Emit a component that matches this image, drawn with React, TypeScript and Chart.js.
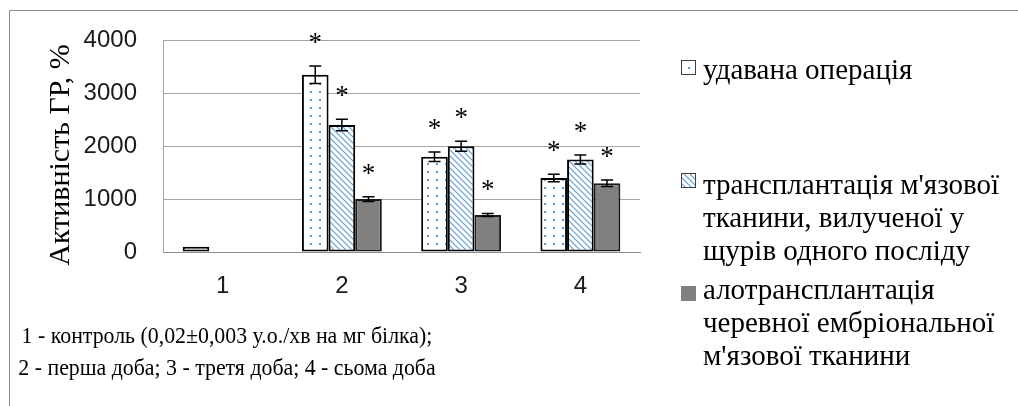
import React, { useEffect, useRef } from 'react';
import { Chart, registerables } from 'chart.js';

Chart.register(...registerables);

// ---- data ----
const categories = ['1', '2', '3', '4'];
const shamValues = [100, 3350, 1800, 1400];
const shamErrors = [0, 165, 90, 70];
const muscleValues = [null, 2400, 2000, 1750];
const muscleErrors = [0, 110, 95, 85];
const alloValues = [null, 1000, 700, 1300];
const alloErrors = [0, 45, 30, 60];
const shamStars = [false, true, true, true];
const muscleStars = [false, true, true, true];
const alloStars = [false, true, true, true];
const seriesNames = [
  ['удавана операція'],
  ["трансплантація м'язової", 'тканини, вилученої у', 'щурів одного посліду'],
  ['алотрансплантація', 'черевної ембріональної', "м'язової тканини"],
];
const yTitle = 'Активність ГР, %';
const noteLines = [
  '1 - контроль (0,02±0,003 у.о./хв на мг білка);',
  '2 - перша доба; 3 - третя доба; 4 - сьома доба',
];
const yMin = 0;
const yMax = 4000;
const yStep = 1000;

const SERIF = '"Liberation Serif", "Times New Roman", serif';
const SANS = '"Liberation Sans", Arial, sans-serif';
const BLUE = '#5b9bd5';

function makeDotPattern(ctx: CanvasRenderingContext2D) {
  const c = document.createElement('canvas');
  c.width = 9;
  c.height = 8;
  const g = c.getContext('2d')!;
  g.fillStyle = '#ffffff';
  g.fillRect(0, 0, 9, 8);
  g.fillStyle = BLUE;
  g.fillRect(4, 3, 2, 2);
  return ctx.createPattern(c, 'repeat')!;
}

function makeDiagPattern(ctx: CanvasRenderingContext2D) {
  const s = 6;
  const c = document.createElement('canvas');
  c.width = s;
  c.height = s;
  const g = c.getContext('2d')!;
  g.fillStyle = '#ffffff';
  g.fillRect(0, 0, s, s);
  g.strokeStyle = BLUE;
  g.lineWidth = 1.1;
  g.beginPath();
  g.moveTo(-1, -1);
  g.lineTo(s + 1, s + 1);
  g.moveTo(-1, s - 1);
  g.lineTo(1, s + 1);
  g.moveTo(s - 1, -1);
  g.lineTo(s + 1, 1);
  g.stroke();
  return ctx.createPattern(c, 'repeat')!;
}

export default function App() {
  const canvasRef = useRef<HTMLCanvasElement | null>(null);

  useEffect(() => {
    const canvas = canvasRef.current!;
    const ctx = canvas.getContext('2d')!;
    const dotPat = makeDotPattern(ctx);
    const diagPat = makeDiagPattern(ctx);

    const errorSets = [shamErrors, muscleErrors, alloErrors];
    const starSets = [shamStars, muscleStars, alloStars];

    const overlay = {
      id: 'overlay',
      afterDatasetsDraw(chart: any) {
        const c = chart.ctx as CanvasRenderingContext2D;
        const y = chart.scales.y;
        c.save();
        chart.data.datasets.forEach((ds: any, d: number) => {
          const meta = chart.getDatasetMeta(d);
          ds.data.forEach((v: number | null, i: number) => {
            if (v === null || v === undefined) return;
            const bar = meta.data[i];
            const x = bar.x;
            const err = errorSets[d][i];
            let topPx = y.getPixelForValue(v);
            if (err > 0) {
              topPx = y.getPixelForValue(v + err);
              const botPx = y.getPixelForValue(v - err);
              c.strokeStyle = '#000';
              c.lineWidth = 1.5;
              c.beginPath();
              c.moveTo(x, topPx);
              c.lineTo(x, botPx);
              c.moveTo(x - 6, topPx);
              c.lineTo(x + 6, topPx);
              c.moveTo(x - 6, botPx);
              c.lineTo(x + 6, botPx);
              c.stroke();
            }
            if (starSets[d][i]) {
              c.fillStyle = '#000';
              c.font = `27px ${SERIF}`;
              c.textAlign = 'center';
              c.textBaseline = 'middle';
              c.fillText('*', x, topPx - 22);
            }
          });
        });
        c.restore();
      },
      afterDraw(chart: any) {
        const c = chart.ctx as CanvasRenderingContext2D;
        c.save();
        // outer frame (top and left edges visible)
        c.strokeStyle = '#8c8c8c';
        c.lineWidth = 1;
        c.beginPath();
        c.moveTo(9.5, 406);
        c.lineTo(9.5, 10.5);
        c.lineTo(1018, 10.5);
        c.stroke();

        // y axis title
        c.fillStyle = '#000';
        c.font = `30px ${SERIF}`;
        c.textAlign = 'center';
        c.textBaseline = 'middle';
        c.translate(61, 155);
        c.rotate(-Math.PI / 2);
        c.fillText(yTitle, 0, 0);
        c.setTransform(1, 0, 0, 1, 0, 0);

        // legend
        const markerFills = [dotPat, diagPat, '#808080'];
        const markerTops = [60, 173, 286];
        const baselines = [[79], [194, 227, 260], [299, 332, 365]];
        seriesNames.forEach((lines, k) => {
          const mx = 681;
          const my = markerTops[k];
          c.fillStyle = markerFills[k] as any;
          c.fillRect(mx, my, 15, 15);
          if (k < 2) {
            c.strokeStyle = '#404040';
            c.lineWidth = 1;
            c.strokeRect(mx + 0.5, my + 0.5, 14, 14);
          }
          c.fillStyle = '#000';
          c.font = `29px ${SERIF}`;
          c.textAlign = 'left';
          c.textBaseline = 'alphabetic';
          lines.forEach((t, j) => c.fillText(t, 703, baselines[k][j]));
        });

        // note under the axis (slightly condensed, as in the original)
        c.font = `24px ${SERIF}`;
        c.textAlign = 'center';
        const sx = 0.91;
        c.save();
        c.scale(sx, 1);
        noteLines.forEach((t, j) => c.fillText(t, 227 / sx, 343 + j * 32));
        c.restore();
        c.restore();
      },
    };

    const chart = new Chart(ctx, {
      type: 'bar',
      data: {
        labels: categories,
        datasets: [
          {
            label: seriesNames[0].join(' '),
            data: shamValues,
            backgroundColor: dotPat,
            borderColor: '#000',
            borderWidth: 2,
            borderSkipped: false,
          },
          {
            label: seriesNames[1].join(' '),
            data: muscleValues,
            backgroundColor: diagPat,
            borderColor: '#000',
            borderWidth: 2,
            borderSkipped: false,
          },
          {
            label: seriesNames[2].join(' '),
            data: alloValues,
            backgroundColor: '#808080',
            borderColor: '#1a1a1a',
            borderWidth: 2,
            borderSkipped: false,
          },
        ] as any,
      },
      options: {
        animation: false,
        responsive: true,
        maintainAspectRatio: false,
        layout: { padding: { left: 0, top: 40, right: 378, bottom: 0 } },
        datasets: { bar: { categoryPercentage: 0.67, barPercentage: 1 } },
        plugins: { legend: { display: false }, tooltip: { enabled: false } },
        scales: {
          x: {
            grid: { display: false, drawTicks: false },
            border: { display: true, color: '#8c8c8c', width: 1 },
            ticks: { color: '#1a1a1a', font: { family: SANS, size: 24 }, padding: 20 },
            afterFit: (s: any) => {
              s.height = 154;
            },
          },
          y: {
            min: yMin,
            max: yMax,
            grid: { color: '#a6a6a6', drawTicks: false },
            border: { display: true, color: '#a6a6a6', width: 1 },
            ticks: {
              stepSize: yStep,
              color: '#1a1a1a',
              font: { family: SANS, size: 24 },
              padding: 26,
              callback: (v: any) => String(v),
            },
            afterFit: (s: any) => {
              s.width = 163;
            },
          },
        },
      },
      plugins: [overlay],
    } as any);

    return () => chart.destroy();
  }, []);

  return (
    <div style={{ position: 'fixed', left: 0, top: 0, width: 1018, height: 406, background: '#fff' }}>
      <canvas ref={canvasRef} />
    </div>
  );
}
